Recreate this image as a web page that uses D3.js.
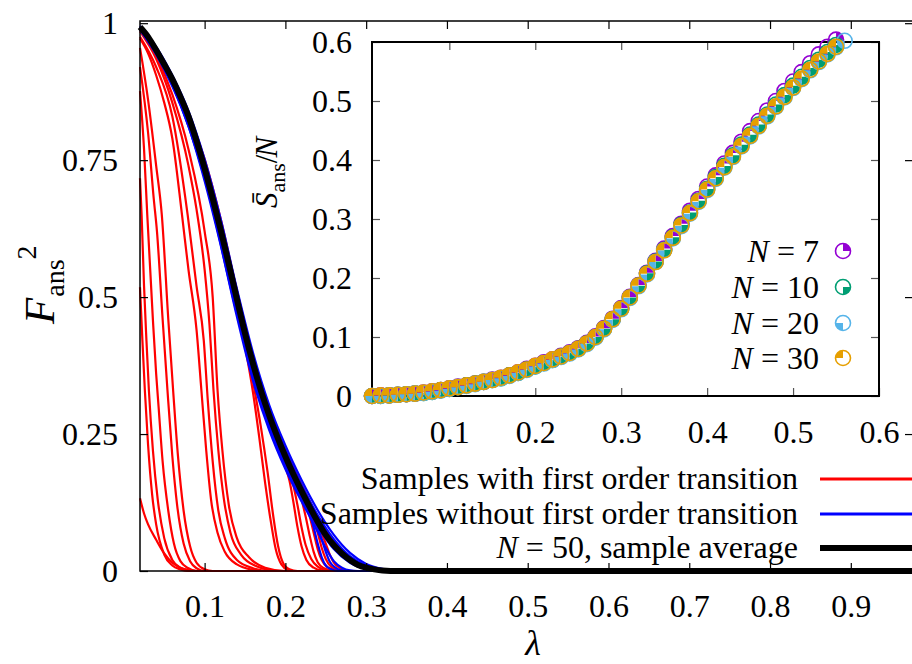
<!DOCTYPE html>
<html>
<head>
<meta charset="utf-8">
<script src="https://cdn.jsdelivr.net/npm/d3@7"></script>
<style>
  body { margin: 0; background: #fff; }
  svg { display: block; font-family: 'Liberation Serif', 'Times New Roman', serif; }
</style>
</head>
<body>
<script>
// ---- main plot data: F_ans^2 against lambda ----
const mainXTicks = [0.1, 0.2, 0.3, 0.4, 0.5, 0.6, 0.7, 0.8, 0.9];
const mainYTicks = [0, 0.25, 0.5, 0.75, 1];

const blackAvg = [[0.02,0.993],[0.03,0.975],[0.04,0.951],[0.05,0.925],[0.06,0.898],[0.07,0.866],[0.08,0.830],[0.09,0.785],[0.10,0.735],[0.11,0.680],[0.12,0.622],[0.13,0.560],[0.14,0.496],[0.15,0.434],[0.16,0.378],[0.17,0.328],[0.18,0.284],[0.19,0.245],[0.20,0.209],[0.21,0.176],[0.22,0.146],[0.23,0.117],[0.24,0.090],[0.25,0.066],[0.26,0.047],[0.27,0.032],[0.28,0.020],[0.29,0.011],[0.30,0.006],[0.31,0.003],[0.32,0.001],[0.34,0.000],[0.977,0.000]];

const blueSamples = [
  [[0.02,0.995],[0.04,0.957],[0.06,0.905],[0.08,0.840],[0.10,0.752],[0.12,0.642],[0.14,0.515],[0.16,0.398],[0.18,0.303],[0.20,0.229],[0.22,0.166],[0.24,0.111],[0.26,0.066],[0.28,0.033],[0.30,0.013],[0.32,0.004],[0.34,0.001],[0.36,0],[0.40,0]],
  [[0.02,0.994],[0.04,0.955],[0.06,0.902],[0.08,0.836],[0.10,0.746],[0.12,0.636],[0.14,0.507],[0.16,0.389],[0.18,0.295],[0.20,0.220],[0.22,0.157],[0.24,0.102],[0.26,0.058],[0.28,0.027],[0.30,0.010],[0.32,0.003],[0.35,0],[0.40,0]],
  [[0.02,0.990],[0.04,0.946],[0.06,0.890],[0.08,0.820],[0.10,0.722],[0.12,0.606],[0.14,0.478],[0.16,0.360],[0.18,0.268],[0.20,0.196],[0.22,0.136],[0.24,0.082],[0.26,0.040],[0.28,0.015],[0.30,0.004],[0.32,0.001],[0.34,0],[0.40,0]],
  [[0.02,0.988],[0.04,0.943],[0.06,0.885],[0.08,0.812],[0.10,0.712],[0.12,0.594],[0.14,0.464],[0.16,0.347],[0.18,0.257],[0.20,0.186],[0.22,0.127],[0.23,0.100],[0.24,0.072],[0.25,0.042],[0.26,0.018],[0.27,0.006],[0.28,0.001],[0.29,0],[0.40,0]],
  [[0.02,0.990],[0.06,0.888],[0.10,0.718],[0.14,0.470],[0.18,0.262],[0.20,0.190],[0.22,0.131],[0.23,0.104],[0.235,0.080],[0.24,0.050],[0.245,0.025],[0.25,0.010],[0.257,0.003],[0.265,0],[0.40,0]],
  [[0.02,0.990],[0.06,0.890],[0.10,0.722],[0.14,0.476],[0.18,0.266],[0.20,0.194],[0.22,0.134],[0.24,0.080],[0.245,0.058],[0.25,0.035],[0.255,0.017],[0.262,0.006],[0.27,0.001],[0.28,0],[0.40,0]]
];

const redSamples = [
  // early transitions
  [[0.02,0.133],[0.025,0.105],[0.03,0.085],[0.04,0.057],[0.05,0.032],[0.06,0.015],[0.07,0.006],[0.08,0.002],[0.09,0],[0.40,0]],
  [[0.02,0.518],[0.023,0.420],[0.026,0.330],[0.03,0.230],[0.035,0.140],[0.04,0.085],[0.05,0.030],[0.06,0.010],[0.07,0.003],[0.08,0],[0.40,0]],
  [[0.02,0.717],[0.022,0.650],[0.025,0.520],[0.028,0.420],[0.031,0.330],[0.036,0.220],[0.042,0.130],[0.05,0.060],[0.06,0.020],[0.07,0.006],[0.08,0.001],[0.09,0],[0.40,0]],
  [[0.02,0.876],[0.025,0.770],[0.029,0.650],[0.036,0.458],[0.04,0.360],[0.043,0.300],[0.048,0.200],[0.055,0.110],[0.062,0.050],[0.07,0.018],[0.08,0.005],[0.09,0],[0.40,0]],
  [[0.02,0.920],[0.03,0.800],[0.037,0.680],[0.041,0.620],[0.048,0.460],[0.054,0.330],[0.06,0.210],[0.066,0.120],[0.074,0.050],[0.082,0.018],[0.09,0.005],[0.10,0],[0.40,0]],
  [[0.02,0.955],[0.03,0.860],[0.04,0.740],[0.047,0.650],[0.055,0.460],[0.061,0.330],[0.067,0.210],[0.074,0.110],[0.082,0.045],[0.09,0.015],[0.10,0.003],[0.11,0],[0.40,0]],
  // mid transitions
  [[0.02,0.972],[0.03,0.945],[0.04,0.905],[0.05,0.855],[0.06,0.790],[0.072,0.650],[0.08,0.550],[0.09,0.440],[0.096,0.330],[0.102,0.220],[0.108,0.130],[0.116,0.070],[0.125,0.035],[0.14,0.012],[0.16,0.002],[0.17,0],[0.40,0]],
  [[0.02,0.975],[0.04,0.920],[0.06,0.830],[0.079,0.650],[0.09,0.520],[0.099,0.420],[0.104,0.310],[0.11,0.200],[0.117,0.110],[0.125,0.060],[0.14,0.020],[0.16,0.005],[0.18,0],[0.40,0]],
  [[0.02,0.985],[0.04,0.935],[0.06,0.855],[0.08,0.740],[0.09,0.660],[0.10,0.550],[0.106,0.450],[0.111,0.330],[0.117,0.220],[0.124,0.130],[0.132,0.070],[0.145,0.030],[0.165,0.008],[0.18,0.002],[0.19,0],[0.40,0]],
  [[0.02,0.988],[0.04,0.940],[0.06,0.870],[0.08,0.770],[0.10,0.620],[0.11,0.500],[0.116,0.330],[0.122,0.220],[0.13,0.120],[0.14,0.060],[0.155,0.025],[0.175,0.006],[0.20,0],[0.40,0]],
  // late transitions, leaving the bundle
  [[0.02,0.990],[0.06,0.893],[0.10,0.728],[0.12,0.615],[0.14,0.482],[0.15,0.410],[0.16,0.325],[0.168,0.240],[0.175,0.160],[0.182,0.090],[0.188,0.040],[0.195,0.012],[0.203,0.002],[0.21,0],[0.40,0]],
  [[0.02,0.990],[0.06,0.895],[0.10,0.731],[0.12,0.619],[0.14,0.488],[0.15,0.420],[0.16,0.345],[0.17,0.260],[0.178,0.180],[0.185,0.100],[0.191,0.045],[0.197,0.015],[0.205,0.003],[0.215,0],[0.40,0]],
  [[0.02,0.988],[0.06,0.888],[0.10,0.725],[0.14,0.475],[0.18,0.265],[0.20,0.190],[0.205,0.165],[0.21,0.125],[0.215,0.080],[0.22,0.045],[0.226,0.020],[0.235,0.006],[0.245,0.001],[0.26,0],[0.40,0]],
  [[0.02,0.990],[0.06,0.890],[0.10,0.727],[0.14,0.478],[0.18,0.268],[0.20,0.192],[0.21,0.155],[0.215,0.120],[0.22,0.080],[0.225,0.048],[0.232,0.022],[0.24,0.008],[0.25,0.002],[0.26,0],[0.40,0]],
  [[0.02,0.990],[0.06,0.891],[0.10,0.729],[0.14,0.480],[0.18,0.270],[0.20,0.195],[0.22,0.130],[0.225,0.100],[0.23,0.065],[0.235,0.035],[0.24,0.016],[0.248,0.005],[0.26,0],[0.40,0]],
  [[0.02,0.991],[0.06,0.893],[0.10,0.732],[0.14,0.484],[0.18,0.274],[0.20,0.199],[0.22,0.138],[0.23,0.100],[0.235,0.070],[0.24,0.040],[0.245,0.020],[0.252,0.007],[0.265,0],[0.40,0]],
  [[0.02,0.991],[0.06,0.895],[0.10,0.736],[0.14,0.490],[0.18,0.279],[0.20,0.204],[0.22,0.142],[0.23,0.108],[0.24,0.070],[0.245,0.042],[0.25,0.022],[0.256,0.009],[0.27,0],[0.40,0]],
  [[0.02,0.992],[0.06,0.897],[0.10,0.740],[0.14,0.494],[0.18,0.282],[0.20,0.207],[0.22,0.146],[0.24,0.085],[0.25,0.050],[0.255,0.030],[0.26,0.015],[0.268,0.005],[0.28,0],[0.40,0]],
  // follows the bundle to the end
  [[0.02,0.990],[0.04,0.948],[0.06,0.898],[0.08,0.835],[0.10,0.752],[0.12,0.642],[0.14,0.512],[0.16,0.392],[0.18,0.298],[0.20,0.222],[0.22,0.158],[0.24,0.100],[0.26,0.054],[0.28,0.024],[0.30,0.008],[0.32,0.002],[0.35,0],[0.40,0]]
];

const mainLegendLabels = ['Samples with first order transition', 'Samples without first order transition', ', sample average'];

// ---- inset data: S_ans / N against lambda ----
const insetXTicks = [0.1, 0.2, 0.3, 0.4, 0.5, 0.6];
const insetYTicks = [0, 0.1, 0.2, 0.3, 0.4, 0.5, 0.6];
const insetSizes = [7, 10, 20, 30];

const lamInset = [0.01,0.02,0.03,0.04,0.05,0.06,0.07,0.08,0.09,0.10,
  0.11,0.12,0.13,0.14,0.15,0.16,0.17,0.18,0.19,0.20,
  0.21,0.22,0.23,0.24,0.25,0.26,0.27,0.28,0.29,0.30,
  0.31,0.32,0.33,0.34,0.35,0.36,0.37,0.38,0.39,0.40,
  0.41,0.42,0.43,0.44,0.45,0.46,0.47,0.48,0.49,0.50,
  0.51,0.52,0.53,0.54,0.55,0.56];

const sN7 = [0.000,0.001,0.001,0.002,0.003,0.004,0.006,0.008,0.010,0.013,
  0.016,0.018,0.021,0.024,0.028,0.031,0.035,0.040,0.046,0.051,
  0.057,0.062,0.068,0.074,0.081,0.090,0.101,0.115,0.131,0.149,
  0.168,0.188,0.209,0.229,0.250,0.271,0.292,0.314,0.334,0.355,
  0.374,0.394,0.412,0.431,0.449,0.466,0.484,0.500,0.517,0.533,
  0.549,0.564,0.579,0.592,0.604];
const sN10 = [0.000,0.000,0.001,0.002,0.003,0.004,0.005,0.007,0.010,0.012,
  0.015,0.018,0.021,0.024,0.027,0.030,0.035,0.039,0.045,0.050,
  0.056,0.061,0.067,0.073,0.080,0.089,0.100,0.114,0.130,0.148,
  0.167,0.187,0.208,0.228,0.248,0.269,0.290,0.311,0.331,0.351,
  0.371,0.390,0.408,0.426,0.443,0.460,0.477,0.494,0.510,0.526,
  0.541,0.556,0.570,0.583,0.595];
const sN20 = [0.000,0.000,0.001,0.002,0.003,0.004,0.005,0.007,0.009,0.012,
  0.015,0.017,0.020,0.024,0.027,0.030,0.034,0.039,0.044,0.050,
  0.055,0.061,0.066,0.072,0.079,0.088,0.099,0.113,0.129,0.147,
  0.166,0.186,0.206,0.227,0.247,0.267,0.288,0.309,0.329,0.349,
  0.368,0.387,0.405,0.423,0.440,0.457,0.474,0.490,0.506,0.522,
  0.537,0.552,0.566,0.579,0.591,0.602];
const sN30 = [0.000,0.001,0.001,0.002,0.003,0.004,0.006,0.008,0.010,0.013,
  0.015,0.018,0.021,0.024,0.027,0.031,0.035,0.040,0.045,0.051,
  0.056,0.062,0.067,0.073,0.080,0.089,0.100,0.114,0.130,0.148,
  0.167,0.187,0.207,0.227,0.247,0.268,0.289,0.310,0.330,0.350,
  0.369,0.388,0.406,0.424,0.441,0.458,0.475,0.491,0.507,0.523,
  0.538,0.553,0.567,0.580,0.592];

const insetSeries = [sN7, sN10, sN20, sN30];
const insetColors = ['#9400d3', '#009e73', '#56b4e9', '#e69f00'];

const width = 912;
const height = 664;
const fontSize = 32;
const serif = "'Liberation Serif', 'Times New Roman', serif";

const svg = d3.select('body')
              .append('svg')
              .attr('width', width)
              .attr('height', height)
              .attr('font-family', serif);

// main scales
const xMain = d3.scaleLinear().domain([0.02, 0.977]).range([140, 913]);
const yMain = d3.scaleLinear().domain([0, 1.004]).range([571, 21]);

const lineMain = d3.line()
                   .x((d) => xMain(d[0]))
                   .y((d) => yMain(d[1]))
                   .curve(d3.curveMonotoneX);

const drawCurves = (data, color, lineWidth) => {
  svg.append('g')
     .selectAll('path')
     .data(data)
     .enter()
     .append('path')
     .attr('d', lineMain)
     .attr('fill', 'none')
     .attr('stroke', color)
     .attr('stroke-width', lineWidth)
     .attr('stroke-linejoin', 'round');
};

drawCurves(redSamples, '#ff0000', 2.2);
drawCurves(blueSamples, '#0000ff', 2.2);
drawCurves([blackAvg], '#000000', 6);

// main axes (ticks point inward, mirrored on top and right)
const styleAxis = (g, tickColor) => {
  g.attr('font-family', serif);
  g.select('.domain').remove();
  g.selectAll('.tick line').attr('stroke', tickColor).attr('stroke-width', 1.2);
  g.selectAll('.tick text')
   .attr('fill', '#000')
   .attr('font-family', serif)
   .style('font-size', fontSize + 'px');
};

svg.append('g')
   .attr('transform', 'translate(0,571)')
   .call(d3.axisBottom(xMain).tickValues(mainXTicks).tickSize(-8).tickPadding(23).tickFormat(d3.format('~g')))
   .call((g) => styleAxis(g, '#000'));
svg.append('g')
   .attr('transform', 'translate(0,21)')
   .call(d3.axisTop(xMain).tickValues(mainXTicks).tickSize(-8).tickFormat(''))
   .call((g) => styleAxis(g, '#000'));
svg.append('g')
   .attr('transform', 'translate(140,0)')
   .call(d3.axisLeft(yMain).tickValues(mainYTicks).tickSize(-8).tickPadding(22).tickFormat(d3.format('~g')))
   .call((g) => styleAxis(g, '#000'));
svg.append('g')
   .attr('transform', 'translate(913,0)')
   .call(d3.axisRight(yMain).tickValues(mainYTicks).tickSize(-8).tickFormat(''))
   .call((g) => styleAxis(g, '#000'));

svg.append('rect')
   .attr('x', 140).attr('y', 21)
   .attr('width', 773).attr('height', 550)
   .attr('fill', 'none')
   .attr('stroke', '#000')
   .attr('stroke-width', 1.5);

// main axis titles
svg.append('text')
   .attr('x', 533).attr('y', 655)
   .attr('text-anchor', 'middle')
   .style('font-size', '36px')
   .style('font-style', 'italic')
   .text('λ');

const yTitle = svg.append('text')
                  .attr('transform', 'translate(54,324) rotate(-90)')
                  .style('font-size', '43px');
yTitle.append('tspan').style('font-style', 'italic').text('F');
yTitle.append('tspan').attr('dy', 10).attr('dx', 1).style('font-size', '28px').text('ans');
yTitle.append('tspan').attr('dy', -28).style('font-size', '28px').text('2');

// main legend
const legendRowsY = [479, 514, 548];
const legendColors = ['#ff0000', '#0000ff', '#000000'];
const legendWidths = [3, 3, 6];
mainLegendLabels.forEach((label, i) => {
  const t = svg.append('text')
               .attr('x', 798).attr('y', legendRowsY[i] + 10)
               .attr('text-anchor', 'end')
               .style('font-size', fontSize + 'px');
  if (i === 2) {
    t.append('tspan').style('font-style', 'italic').text('N');
    t.append('tspan').text(' = 50' + label);
  } else {
    t.text(label);
  }
  svg.append('line')
     .attr('x1', 820).attr('x2', 912)
     .attr('y1', legendRowsY[i]).attr('y2', legendRowsY[i])
     .attr('stroke', legendColors[i])
     .attr('stroke-width', legendWidths[i]);
});

// ---- inset ----
const xIn = d3.scaleLinear().domain([0.01, 0.6]).range([372, 879]);
const yIn = d3.scaleLinear().domain([0, 0.6]).range([396, 42]);

svg.append('rect')
   .attr('x', 372).attr('y', 42)
   .attr('width', 507).attr('height', 354)
   .attr('fill', '#fff');

svg.append('g')
   .attr('transform', 'translate(0,396)')
   .call(d3.axisBottom(xIn).tickValues(insetXTicks).tickSize(-8).tickPadding(24).tickFormat(d3.format('~g')))
   .call((g) => styleAxis(g, '#555'));
svg.append('g')
   .attr('transform', 'translate(0,42)')
   .call(d3.axisTop(xIn).tickValues(insetXTicks).tickSize(-8).tickFormat(''))
   .call((g) => styleAxis(g, '#555'));
svg.append('g')
   .attr('transform', 'translate(372,0)')
   .call(d3.axisLeft(yIn).tickValues(insetYTicks).tickSize(-8).tickPadding(20).tickFormat(d3.format('~g')))
   .call((g) => styleAxis(g, '#555'));
svg.append('g')
   .attr('transform', 'translate(879,0)')
   .call(d3.axisRight(yIn).tickValues(insetYTicks).tickSize(-8).tickFormat(''))
   .call((g) => styleAxis(g, '#555'));

svg.append('rect')
   .attr('x', 372).attr('y', 42)
   .attr('width', 507).attr('height', 354)
   .attr('fill', 'none')
   .attr('stroke', '#000')
   .attr('stroke-width', 2);

// inset markers: open circle with one filled quadrant
const markerR = 7.5;
const quadrant = (k) => d3.arc()
                          .innerRadius(0)
                          .outerRadius(markerR)
                          .startAngle(k * Math.PI / 2)
                          .endAngle((k + 1) * Math.PI / 2)();

const drawMarker = (g, cx, cy, k) => {
  const m = g.append('g').attr('transform', 'translate(' + cx + ',' + cy + ')');
  m.append('path').attr('d', quadrant(k)).attr('fill', insetColors[k]);
  m.append('circle')
   .attr('r', markerR)
   .attr('fill', 'none')
   .attr('stroke', insetColors[k])
   .attr('stroke-width', 1.6);
};

const markerLayer = svg.append('g');
insetSeries.forEach((series, k) => {
  series.forEach((v, i) => {
    drawMarker(markerLayer, xIn(lamInset[i]), yIn(v), k);
  });
});

// inset legend
const insetRowsY = [251, 287, 323, 358];
insetSizes.forEach((n, k) => {
  const t = svg.append('text')
               .attr('x', 819).attr('y', insetRowsY[k] + 11)
               .attr('text-anchor', 'end')
               .style('font-size', fontSize + 'px');
  t.append('tspan').style('font-style', 'italic').text('N');
  t.append('tspan').text(' = ' + n);
  drawMarker(svg, 843, insetRowsY[k], k);
});

// inset y title
const sTitle = svg.append('text')
                  .attr('transform', 'translate(277,208) rotate(-90)')
                  .style('font-size', '31px');
sTitle.append('tspan').style('font-style', 'italic').text('S\u0304');
sTitle.append('tspan').attr('dy', 8).style('font-size', '22px').text('ans');
sTitle.append('tspan').attr('dy', -8).text('/');
sTitle.append('tspan').style('font-style', 'italic').attr('dx', -3).text('N');
</script>
</body>
</html>
